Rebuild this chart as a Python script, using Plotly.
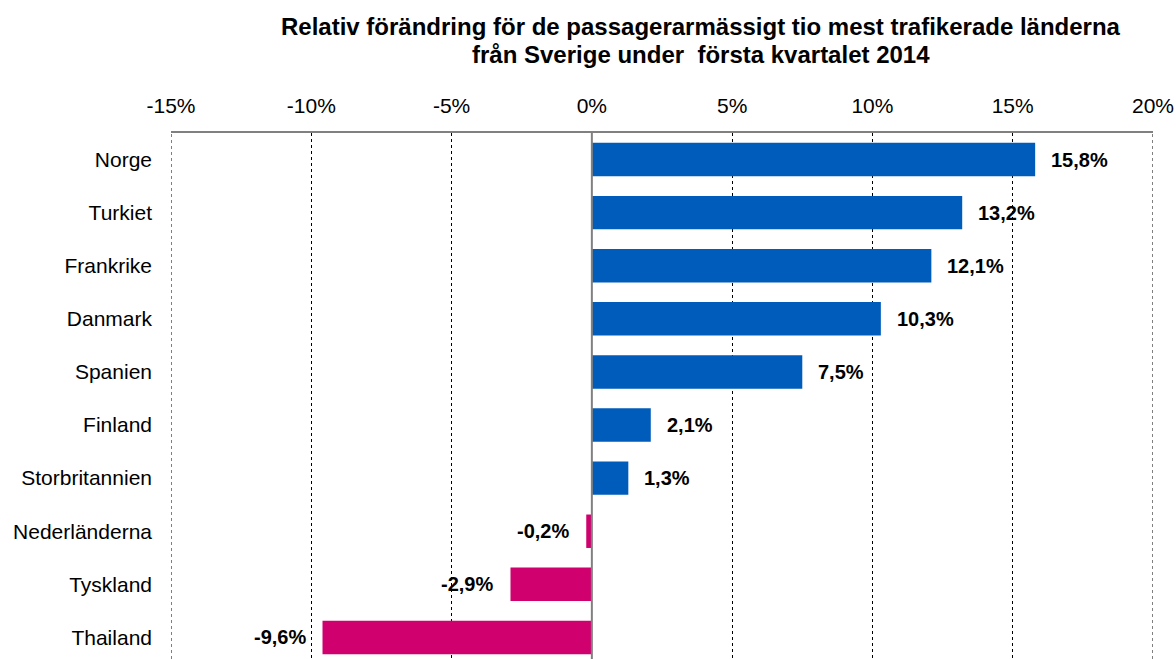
import plotly.graph_objects as go

countries = ["Norge", "Turkiet", "Frankrike", "Danmark", "Spanien", "Finland",
             "Storbritannien", "Nederländerna", "Tyskland", "Thailand"]
values = [15.8, 13.2, 12.1, 10.3, 7.5, 2.1, 1.3, -0.2, -2.9, -9.6]
tick_vals = [-15, -10, -5, 0, 5, 10, 15, 20]
tick_text = ["-15%", "-10%", "-5%", "0%", "5%", "10%", "15%", "20%"]
title_lines = ["Relativ förändring för de passagerarmässigt tio mest trafikerade länderna",
               "från Sverige under  första kvartalet 2014"]

BLUE = "#005CBA"
MAGENTA = "#D0006F"
FONT = "Liberation Sans, Arial, sans-serif"

colors = [BLUE if v >= 0 else MAGENTA for v in values]

fig = go.Figure()
fig.add_trace(go.Bar(
    x=values, y=countries, orientation="h",
    marker=dict(color=colors, line=dict(width=0)),
    width=0.63, hoverinfo="skip",
))

for c, v in zip(countries, values):
    label = f"{v:.1f}%".replace(".", ",")
    fig.add_annotation(
        x=v, y=c, text=f"<b>{label}</b>", showarrow=False,
        xanchor="left" if v >= 0 else "right",
        xshift=14 if v >= 0 else -15,
        font=dict(family=FONT, size=20, color="black"),
    )

for i, line in enumerate(title_lines):
    fig.add_annotation(
        xref="paper", yref="paper", x=(701 - 171) / 982,
        y=1 + (133 - (27 + 28 * i)) / 526,
        xanchor="center", yanchor="middle", showarrow=False,
        text=f"<b>{line}</b>",
        font=dict(family=FONT, size=24, color="black"),
    )

# dotted gridlines at the range edges (plotly clips these)
for xv in (tick_vals[0], tick_vals[-1]):
    fig.add_shape(type="line", xref="x", yref="paper", x0=xv, x1=xv, y0=0, y1=1,
                  line=dict(color="black", width=1, dash="dot"), layer="below")

# zero line
fig.add_shape(type="line", xref="x", yref="paper", x0=0, x1=0, y0=0, y1=1,
              line=dict(color="#808080", width=2))

fig.update_layout(
    width=1176, height=659,
    margin=dict(l=171, r=23, t=133, b=0),
    paper_bgcolor="white", plot_bgcolor="white",
    showlegend=False,
    xaxis=dict(
        side="top", range=[-15, 20], tickvals=tick_vals, ticktext=tick_text,
        showgrid=True, gridcolor="black", griddash="dot", gridwidth=1,
        zeroline=False, showline=True, linecolor="#808080", linewidth=2,
        mirror=False, ticks="", ticklen=0, ticklabelstandoff=10,
        tickfont=dict(family=FONT, size=21, color="black"),
        fixedrange=True,
    ),
    yaxis=dict(
        type="category", categoryorder="array", categoryarray=countries,
        range=[9.406, -0.5], showgrid=False, zeroline=False, showline=False,
        ticks="", ticklabelstandoff=18,
        tickfont=dict(family=FONT, size=21, color="black"),
        fixedrange=True,
    ),
    bargap=0.37,
)

fig.write_html("out.html", config={"displayModeBar": False},
               post_script="document.body.style.margin='0';document.body.style.overflow='hidden';")
